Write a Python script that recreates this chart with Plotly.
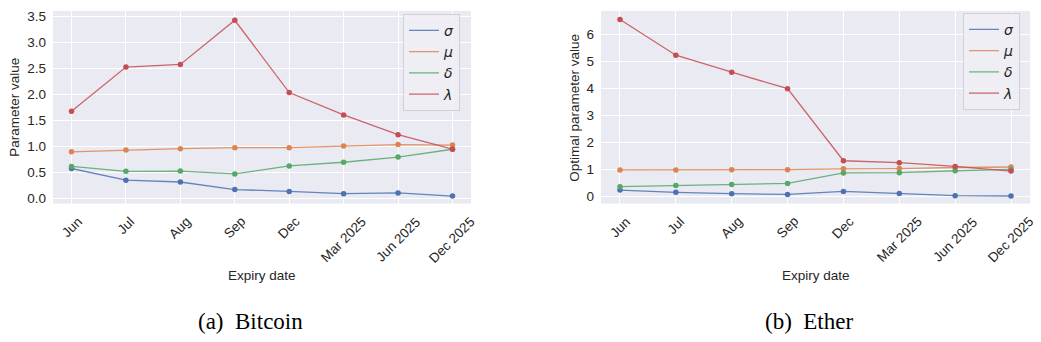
import plotly.graph_objects as go

expiries = ["Jun", "Jul", "Aug", "Sep", "Dec", "Mar 2025", "Jun 2025", "Dec 2025"]
series_names = ["σ", "μ", "δ", "λ"]

btc_sigma = [0.58, 0.355, 0.32, 0.175, 0.14, 0.095, 0.11, 0.05]
btc_mu = [0.90, 0.935, 0.96, 0.98, 0.98, 1.01, 1.04, 1.03]
btc_delta = [0.62, 0.525, 0.53, 0.475, 0.63, 0.70, 0.80, 0.95]
btc_lambda = [1.68, 2.53, 2.58, 3.43, 2.04, 1.61, 1.23, 0.95]

eth_sigma = [0.245, 0.16, 0.11, 0.085, 0.195, 0.12, 0.037, 0.025]
eth_mu = [0.99, 0.99, 1.0, 1.0, 1.03, 1.04, 1.08, 1.10]
eth_delta = [0.37, 0.41, 0.45, 0.49, 0.88, 0.89, 0.96, 1.01]
eth_lambda = [6.56, 5.24, 4.61, 4.0, 1.33, 1.26, 1.12, 0.95]

btc_ticks = [0.0, 0.5, 1.0, 1.5, 2.0, 2.5, 3.0, 3.5]
eth_ticks = [0, 1, 2, 3, 4, 5, 6]

colors = ["#4C72B0", "#DD8452", "#55A868", "#C44E52"]
line_colors = ["rgba(76,114,176,0.85)", "rgba(221,132,82,0.85)",
               "rgba(85,168,104,0.85)", "rgba(196,78,82,0.85)"]

W, H = 1041, 342
fig = go.Figure()

btc = [btc_sigma, btc_mu, btc_delta, btc_lambda]
eth = [eth_sigma, eth_mu, eth_delta, eth_lambda]

for data, xa, ya, leg in [(btc, "x", "y", "legend"), (eth, "x2", "y2", "legend2")]:
    for i, vals in enumerate(data):
        fig.add_trace(go.Scatter(
            x=expiries, y=vals, mode="lines+markers", xaxis=xa, yaxis=ya,
            line=dict(color=line_colors[i], width=1.3),
            marker=dict(color=colors[i], size=5.5),
            showlegend=False, hoverinfo="skip"))
    for i, name in enumerate(series_names):
        fig.add_trace(go.Scatter(
            x=[None], y=[None], mode="lines", xaxis=xa, yaxis=ya,
            line=dict(color=line_colors[i], width=1.3),
            name="<i>%s</i>" % name, legend=leg, showlegend=True))

tickfont = dict(family="Liberation Sans, Arial", size=13.5, color="#262626")
common_x = dict(type="category", categoryorder="array", categoryarray=expiries,
                showticklabels=False, showgrid=True, gridcolor="white", gridwidth=1,
                zeroline=False, showline=False, ticks="", range=[-0.34, 7.34])
common_y = dict(showgrid=True, gridcolor="white", gridwidth=1, zeroline=False,
                showline=False, ticks="", tickfont=tickfont, ticklabelstandoff=6)

y0 = 1 - 205 / H
y1 = 1 - 10 / H

legend_common = dict(xanchor="left", yanchor="top",
                     bgcolor="rgba(238,238,244,0.85)", bordercolor="#D0D0D8", borderwidth=1,
                     font=dict(family="DejaVu Sans", size=14, color="#262626"))

fig.update_layout(
    width=W, height=H, margin=dict(l=0, r=0, t=0, b=0),
    paper_bgcolor="white", plot_bgcolor="#EAEAF2",
    xaxis=dict(domain=[53 / W, 471 / W], anchor="y", **common_x),
    yaxis=dict(domain=[y0, y1], anchor="x", range=[-0.095, 3.61],
               tickvals=btc_ticks, ticktext=["%.1f" % t for t in btc_ticks], **common_y),
    xaxis2=dict(domain=[601 / W, 1030 / W], anchor="y2", **common_x),
    yaxis2=dict(domain=[y0, y1], anchor="x2", range=[-0.256, 6.88],
                tickvals=eth_ticks, ticktext=[str(t) for t in eth_ticks], **common_y),
    legend=dict(x=403 / W, y=1 - 13 / H, **legend_common),
    legend2=dict(x=963 / W, y=1 - 12 / H, **legend_common),
)

# rotated category tick labels, centred under each tick like the reference
for xref, yref in [("x", "y domain"), ("x2", "y2 domain")]:
    for lab in expiries:
        fig.add_annotation(xref=xref, yref=yref, x=lab, y=0, yshift=-9,
                           text=lab, textangle=-45, showarrow=False,
                           xanchor="center", yanchor="top", font=tickfont,
                           borderpad=0)

label_font = dict(family="Liberation Sans, Arial", size=13.5, color="#262626")
cap_font = dict(family="Liberation Serif, Times New Roman", size=23, color="black")
annots = [
    dict(text="Parameter value", x=15 / W, y=1 - 108 / H, textangle=-90, font=label_font),
    dict(text="Optimal parameter value", x=575 / W, y=1 - 108 / H, textangle=-90, font=label_font),
    dict(text="Expiry date", x=262 / W, y=1 - 278 / H, font=label_font),
    dict(text="Expiry date", x=816 / W, y=1 - 278 / H, font=label_font),
    dict(text="(a)&nbsp;&nbsp;Bitcoin", x=250 / W, y=1 - 324 / H, font=cap_font),
    dict(text="(b)&nbsp;&nbsp;Ether", x=809 / W, y=1 - 324 / H, font=cap_font),
]
for a in annots:
    fig.add_annotation(xref="paper", yref="paper", showarrow=False,
                       xanchor="center", yanchor="middle", **a)

fig.write_html("out.html")
